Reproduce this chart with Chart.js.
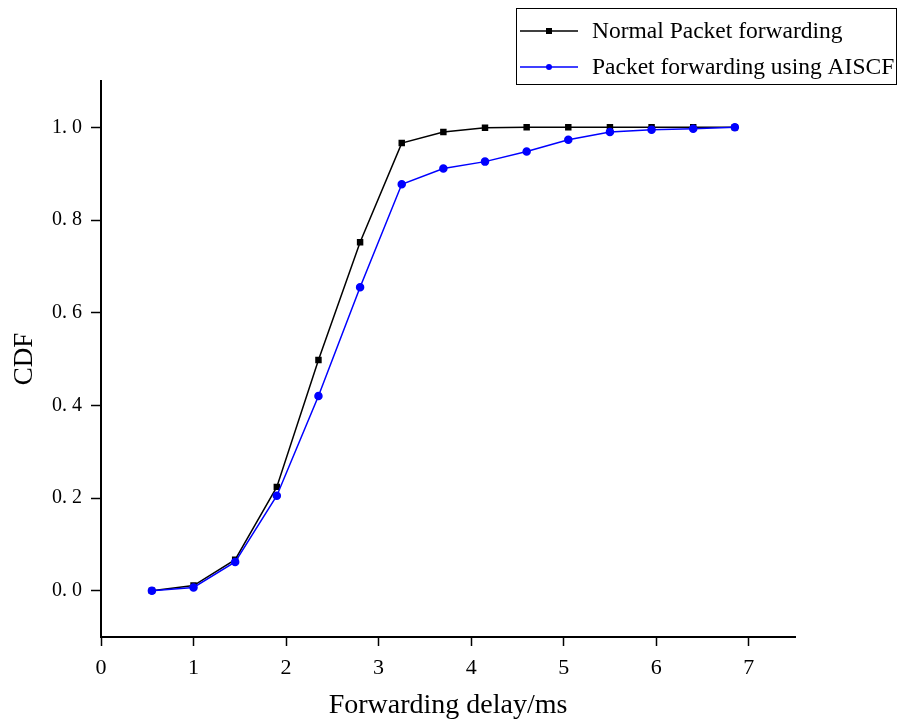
<!DOCTYPE html>
<html>
<head>
<meta charset="utf-8">
<script src="https://cdn.jsdelivr.net/npm/chart.js@4"></script>
<style>
  html, body { margin: 0; padding: 0; background: #fff; }
  #wrap { width: 902px; height: 721px; position: relative; }
</style>
</head>
<body>
<div id="wrap"><canvas id="cdfChart"></canvas></div>
<script>
// delay values (ms) and CDF values
const delays = [0.55, 1.0, 1.45, 1.9, 2.35, 2.8, 3.25, 3.7, 4.15, 4.6, 5.05, 5.5, 5.95, 6.4, 6.85];
const normalCdf = [0.0, 0.011, 0.067, 0.224, 0.498, 0.752, 0.966, 0.99, 0.999, 1.0, 1.0, 1.0, 1.0, 1.0, 1.0];
const aiscfCdf = [0.0, 0.007, 0.062, 0.205, 0.42, 0.655, 0.877, 0.911, 0.926, 0.948, 0.973, 0.99, 0.995, 0.997, 1.0];
const xTicks = [0, 1, 2, 3, 4, 5, 6, 7];
const yTicks = [0, 0.2, 0.4, 0.6, 0.8, 1.0];
const seriesNames = ['Normal Packet forwarding', 'Packet forwarding using AISCF'];

const serif = '"Liberation Serif", "DejaVu Serif", serif';

// boxed legend in the top right corner
const boxLegend = {
  id: 'boxLegend',
  afterDraw(chart) {
    const ctx = chart.ctx;
    ctx.save();
    ctx.strokeStyle = '#000';
    ctx.lineWidth = 1;
    ctx.strokeRect(516.5, 8.5, 380, 76);
    chart.data.datasets.forEach((ds, i) => {
      const y = 31 + i * 36;
      ctx.strokeStyle = ds.borderColor;
      ctx.lineWidth = 1.5;
      ctx.beginPath();
      ctx.moveTo(520, y);
      ctx.lineTo(578, y);
      ctx.stroke();
      ctx.fillStyle = ds.borderColor;
      if (ds.pointStyle === 'rect') {
        ctx.fillRect(546, y - 3, 6, 6);
      } else {
        ctx.beginPath();
        ctx.arc(549, y, 3, 0, Math.PI * 2);
        ctx.fill();
      }
      ctx.fillStyle = '#000';
      ctx.font = '23.5px ' + serif;
      ctx.textBaseline = 'middle';
      ctx.fillText(ds.label, 592, y + 1);
    });
    ctx.restore();
  }
};

const ctx = document.getElementById('cdfChart').getContext('2d');
new Chart(ctx, {
  type: 'line',
  data: {
    datasets: [
      {
        label: seriesNames[0],
        data: delays.map((d, i) => ({ x: d, y: normalCdf[i] })),
        borderColor: '#000000',
        backgroundColor: '#000000',
        borderWidth: 1.5,
        pointStyle: 'rect',
        pointRadius: 3.5,
        order: 2
      },
      {
        label: seriesNames[1],
        data: delays.map((d, i) => ({ x: d, y: aiscfCdf[i] })),
        borderColor: '#0000ff',
        backgroundColor: '#0000ff',
        borderWidth: 1.5,
        pointStyle: 'circle',
        pointRadius: 3.5,
        order: 1
      }
    ]
  },
  options: {
    responsive: true,
    maintainAspectRatio: false,
    animation: false,
    layout: { padding: { top: 81, right: 107, left: 0, bottom: 0 } },
    plugins: { legend: { display: false }, tooltip: { enabled: false } },
    scales: {
      x: {
        type: 'linear',
        min: 0,
        max: 7.5,
        afterBuildTicks: s => { s.ticks = xTicks.map(v => ({ value: v })); },
        afterFit: s => { s.height = 84; },
        grid: { drawOnChartArea: false, color: '#000', tickLength: 9, tickWidth: 1.5 },
        border: { color: '#000', width: 2 },
        ticks: { color: '#000', font: { family: serif, size: 22 }, padding: 9, maxRotation: 0 },
        title: { display: true, text: 'Forwarding delay/ms', color: '#000', font: { family: serif, size: 28 }, padding: { top: 0, bottom: -1 } }
      },
      y: {
        type: 'linear',
        min: -0.1,
        max: 1.1,
        afterBuildTicks: s => { s.ticks = yTicks.map(v => ({ value: v })); },
        afterFit: s => { s.width = 101; },
        grid: { drawOnChartArea: false, color: '#000', tickLength: 10, tickWidth: 1.5 },
        border: { color: '#000', width: 2 },
        ticks: {
          color: '#000',
          font: { family: serif, size: 20 },
          padding: 9,
          callback: v => Number(v).toFixed(1).replace('.', '. ')
        },
        title: { display: true, text: 'CDF', color: '#000', font: { family: serif, size: 27 }, padding: { top: 9, bottom: 0 } }
      }
    }
  },
  plugins: [boxLegend]
});
</script>
</body>
</html>
